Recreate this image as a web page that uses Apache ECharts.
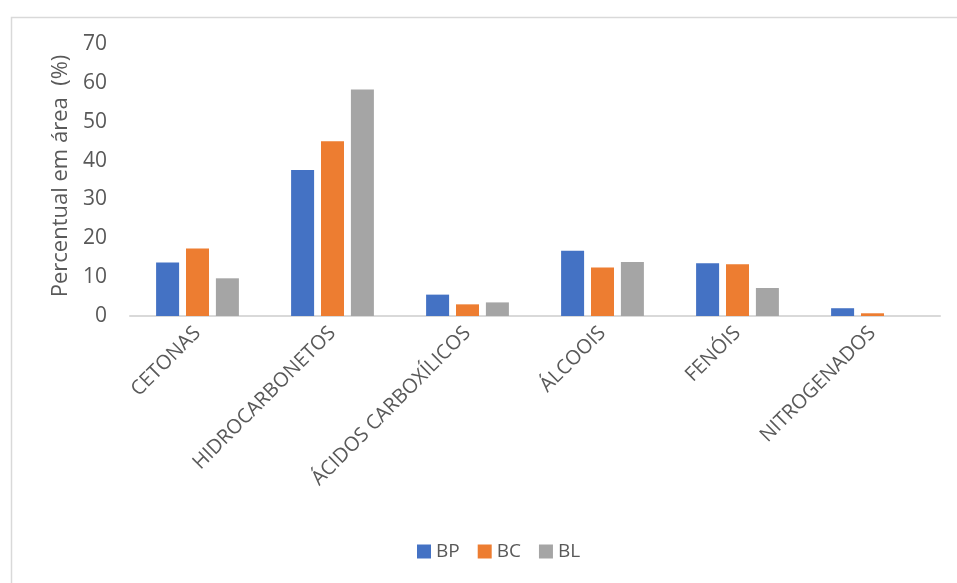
<!DOCTYPE html>
<html><head><meta charset="utf-8">
<script src="https://cdn.jsdelivr.net/npm/echarts@6/dist/echarts.min.js"></script>
<style>html,body{margin:0;padding:0;background:#fff;}#c{width:957px;height:583px;}</style>
</head><body><div id="c"></div>
<script>
var categories = ['CETONAS','HIDROCARBONETOS','ÁCIDOS CARBOXÍLICOS','ÁLCOOIS','FENÓIS','NITROGENADOS'];
var seriesNames = ['BP','BC','BL'];
var BP = [13.8, 37.6, 5.5, 16.8, 13.6, 2.0];
var BC = [17.4, 45.0, 3.0, 12.5, 13.3, 0.7];
var BL = [9.7, 58.3, 3.5, 13.9, 7.2, 0];
var yTicks = [0,10,20,30,40,50,60,70];
var colors = ['#4472C4','#ED7D31','#A5A5A5'];
var font = '"Open Sans", sans-serif';
var chart = echarts.init(document.getElementById('c'));
var data = [BP, BC, BL];
chart.setOption({
  animation: false,
  graphic: [{type:'rect', left: 9, top: 15, shape:{width: 1000, height: 620}, style:{fill:'none', stroke:'#d9d9d9', lineWidth:1.5}, z: -1}],
  grid: {left: 130, right: 17, top: 44, bottom: 267},
  legend: {bottom: 17, left: 412, itemWidth: 14, itemHeight: 14, itemGap: 18,
    data: seriesNames, icon: 'rect',
    textStyle: {color:'#595959', fontSize: 19, fontFamily: font}},
  xAxis: {type:'category', data: categories,
    axisLine: {lineStyle:{color:'#d9d9d9', width: 2}},
    axisTick: {show:false},
    axisLabel: {rotate: 45, interval: 0, color:'#595959', fontSize: 20, fontFamily: font, margin: 14}},
  yAxis: {type:'value', min: yTicks[0], max: yTicks[yTicks.length-1], interval: 10,
    name: 'Percentual em área  (%)', nameLocation: 'middle', nameGap: 56,
    nameTextStyle: {color:'#595959', fontSize: 22, fontFamily: font, padding: [0, 0, 0, 8]},
    axisLine: {show:false}, axisTick: {show:false}, splitLine: {show:false},
    axisLabel: {color:'#595959', fontSize: 21, fontFamily: font, margin: 23}},
  series: seriesNames.map(function(n,i){
    return {name: n, type:'bar', data: data[i], barWidth: 23, barGap: '30%',
      itemStyle: {color: colors[i]}};
  })
});
</script></body></html>
